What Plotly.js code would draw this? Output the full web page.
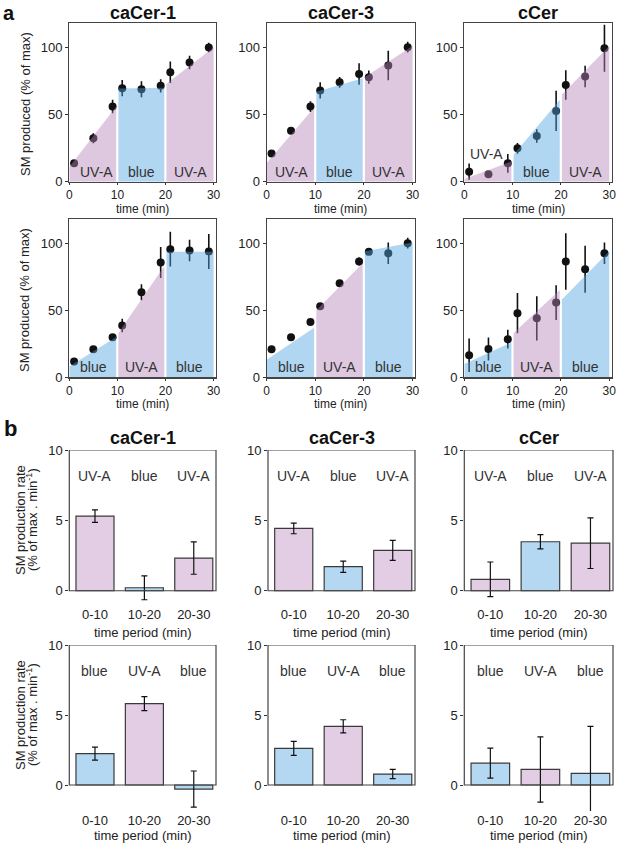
<!DOCTYPE html>
<html><head><meta charset="utf-8">
<script src="https://cdn.plot.ly/plotly-3.0.1.min.js"></script>
<style>html,body{margin:0;padding:0;background:#fff}#chart{width:617px;height:843px}</style>
</head><body><div id="chart"></div><script>
// ---------------- DATA ----------------
const compounds = ['caCer-1', 'caCer-3', 'cCer'];
const timePoints = [1, 5, 9, 11, 15, 19, 21, 25, 29];
const timeTicks = [0, 10, 20, 30];
const amountTicks = [0, 50, 100];

// Row 1 protocol: UV-A / blue / UV-A ; Row 2 protocol: blue / UV-A / blue
const row1Light = ['UV-A', 'blue', 'UV-A'];
const row2Light = ['blue', 'UV-A', 'blue'];

// Panel a, row 1 — SM produced (% of max)
const a1_caCer1 = [13.7, 32.3, 56, 69.7, 68.9, 71.4, 81.6, 88.8, 100];
const a1_caCer1_err = [2, 3.7, 5, 6, 6, 5, 8, 5, 3.5];
const a1_caCer3 = [21, 38, 56, 68, 74, 80.3, 77.9, 86.6, 100.2];
const a1_caCer3_err = [1.5, 1.5, 4, 6, 4, 8, 5, 11, 4];
const a1_cCer = [7.5, 5.5, 13.7, 24.9, 34, 52.7, 72, 78.4, 99.5];
const a1_cCer_err = [6, 1, 7, 4, 5, 15, 11, 8, 17.5];

// Panel a, row 2
const a2_caCer1 = [11.7, 20.9, 29.9, 38.6, 63.4, 85.6, 95.5, 94.5, 93.8];
const a2_caCer1_err = [2, 2, 2, 5, 6, 11.5, 13, 8, 13];
const a2_caCer3 = [20.9, 29.9, 41.3, 53, 70.1, 86.3, 93.5, 92.5, 100];
const a2_caCer3_err = [2, 1, 1, 1, 1, 3, 2, 8, 4];
const a2_cCer = [16.4, 21.1, 28.4, 47.8, 44, 55.7, 86.3, 80.6, 92.5];
const a2_cCer_err = [12.5, 8.5, 7, 15, 16.5, 13, 21, 17.5, 8];

// Linear fits per light period: [start time, end time, start value, end value]
const periodStart = [0, 10.2, 20.2];
const periodEnd = [9.75, 19.75, 30];
const a1_caCer1_fitStart = [11, 69.5, 73];
const a1_caCer1_fitEnd = [56, 70, 100];
const a1_caCer3_fitStart = [14, 67, 78];
const a1_caCer3_fitEnd = [55, 77, 101];
const a1_cCer_fitStart = [2, 20, 65];
const a1_cCer_fitEnd = [15, 61, 101];
const a2_caCer1_fitStart = [8, 33, 93.5];
const a2_caCer1_fitEnd = [30, 83, 93.5];
const a2_caCer3_fitStart = [13, 50, 94];
const a2_caCer3_fitEnd = [37, 85, 100.5];
const a2_cCer_fitStart = [10, 33, 58];
const a2_cCer_fitEnd = [26, 65, 94];

// Panel b — SM production rate (% of max . min^-1)
const periods = ['0-10', '10-20', '20-30'];
const rateTicks = [0, 5, 10];
const b1_caCer1 = [5.3, 0.21, 2.32];
const b1_caCer1_err = [0.45, 0.85, 1.15];
const b1_caCer3 = [4.43, 1.71, 2.87];
const b1_caCer3_err = [0.38, 0.4, 0.71];
const b1_cCer = [0.81, 3.48, 3.38];
const b1_cCer_err = [1.23, 0.5, 1.8];
const b2_caCer1 = [2.24, 5.81, -0.29];
const b2_caCer1_err = [0.46, 0.5, 1.29];
const b2_caCer3 = [2.61, 4.19, 0.78];
const b2_caCer3_err = [0.5, 0.47, 0.33];
const b2_cCer = [1.56, 1.11, 0.83];
const b2_cCer_err = [1.07, 2.33, 3.36];

// ---------------- STYLE ----------------
const W = 617, H = 843;
const FONT = 'Liberation Sans, Arial, Helvetica, sans-serif';
const TXT = '#222';
const fillColor = {'UV-A': 'rgba(182,133,186,0.45)', 'blue': 'rgba(79,164,224,0.45)'};
const barColor = {'UV-A': '#e3cde4', 'blue': '#b4d8f2'};
const px = v => v / W;
const py = v => 1 - v / H;

const colA = [[69.3, 216], [266.7, 415], [464.3, 611.7]];
const colB = [[69.3, 216], [268, 415], [464.3, 613]];
const rowsA = [[23.3, 181.7], [219, 377.3]];
const rowsB = [[450, 604.8], [645, 810.9]];
const rowsBRange = [[-1.0, 10], [-1.85, 10]];

const panelsA = [
  [[a1_caCer1, a1_caCer1_err, a1_caCer1_fitStart, a1_caCer1_fitEnd],
   [a1_caCer3, a1_caCer3_err, a1_caCer3_fitStart, a1_caCer3_fitEnd],
   [a1_cCer, a1_cCer_err, a1_cCer_fitStart, a1_cCer_fitEnd]],
  [[a2_caCer1, a2_caCer1_err, a2_caCer1_fitStart, a2_caCer1_fitEnd],
   [a2_caCer3, a2_caCer3_err, a2_caCer3_fitStart, a2_caCer3_fitEnd],
   [a2_cCer, a2_cCer_err, a2_cCer_fitStart, a2_cCer_fitEnd]]
];
const panelsB = [
  [[b1_caCer1, b1_caCer1_err], [b1_caCer3, b1_caCer3_err], [b1_cCer, b1_cCer_err]],
  [[b2_caCer1, b2_caCer1_err], [b2_caCer3, b2_caCer3_err], [b2_cCer, b2_cCer_err]]
];
const lights = [row1Light, row2Light];
// label positions inside panels (time, value)
const labelTimes = [[[5.6, 15, 25.3], [5, 15, 25], [4.6, 15, 25]], [[5.1, 15, 24.9], [5, 15, 25], [5, 15, 25]]];
const labelVals = [[[7, 7, 7], [7, 7, 7], [20.7, 7, 7]], [[7.5, 7.5, 7.5], [7.5, 7.5, 7.5], [7.5, 7.5, 7.5]]];

const data = [];
const layout = {
  width: W, height: H, margin: {l: 0, r: 0, t: 0, b: 0},
  paper_bgcolor: '#fff', plot_bgcolor: 'rgba(0,0,0,0)',
  showlegend: false, font: {family: FONT, size: 13, color: TXT},
  annotations: [], shapes: []
};

let n = 0;
// ---- panel a ----
for (let r = 0; r < 2; r++) {
  for (let c = 0; c < 3; c++) {
    n++;
    const xa = n === 1 ? 'x' : 'x' + n, ya = n === 1 ? 'y' : 'y' + n;
    const [vals, errs, fs, fe] = panelsA[r][c];
    data.push({type: 'scatter', mode: 'markers', x: timePoints, y: vals, xaxis: xa, yaxis: ya,
      marker: {color: '#111', size: 8},
      error_y: {type: 'data', array: errs, visible: true, color: '#111', thickness: 1.6, width: 0},
      cliponaxis: false, hoverinfo: 'skip'});
    for (let s = 0; s < 3; s++) {
      data.push({type: 'scatter', mode: 'none', fill: 'toself',
        fillcolor: fillColor[lights[r][s]],
        x: [periodStart[s], periodStart[s], periodEnd[s], periodEnd[s]],
        y: [0, fs[s], fe[s], 0], xaxis: xa, yaxis: ya, hoverinfo: 'skip'});
      layout.annotations.push({xref: xa, yref: ya, x: labelTimes[r][c][s], y: labelVals[r][c][s],
        text: lights[r][s], showarrow: false, font: {size: 14, color: '#333'}, yanchor: 'middle'});
    }
    const axKey = n === 1 ? '' : n;
    layout['xaxis' + axKey] = {domain: [px(colA[c][0]), px(colA[c][1])], anchor: ya, range: [0, 30.5],
      tickvals: timeTicks, ticks: 'outside', ticklen: 2, tickcolor: '#333', showline: true, mirror: true,
      linecolor: '#444', linewidth: 1.2, showgrid: false, zeroline: false, tickfont: {size: 12}, fixedrange: true};
    layout['yaxis' + axKey] = {domain: [py(rowsA[r][1]), py(rowsA[r][0])], anchor: xa, range: [0, 118],
      tickvals: amountTicks, ticks: 'outside', ticklen: 3, tickcolor: '#333', showline: true, mirror: true,
      linecolor: '#444', linewidth: 1.2, showgrid: false, zeroline: false, tickfont: {size: 13}, fixedrange: true};
  }
}
// ---- panel b ----
for (let r = 0; r < 2; r++) {
  for (let c = 0; c < 3; c++) {
    n++;
    const xa = 'x' + n, ya = 'y' + n;
    const [vals, errs] = panelsB[r][c];
    data.push({type: 'bar', x: periods, y: vals, xaxis: xa, yaxis: ya, width: 0.77,
      marker: {color: lights[r].map(l => barColor[l]), line: {color: '#3a3a3a', width: 1.2}},
      error_y: {type: 'data', array: errs, visible: true, color: '#111', thickness: 1.2, width: 3},
      hoverinfo: 'skip'});
    lights[r].forEach((l, i) => layout.annotations.push({xref: xa, yref: ya, x: periods[i], y: 8.15,
      text: l, showarrow: false, font: {size: 14, color: '#333'}, yanchor: 'middle'}));
    layout.shapes.push({type: 'rect', xref: xa + ' domain', yref: ya, x0: 0, x1: 1, y0: 0, y1: 10,
      line: {color: '#444', width: 1.2}, fillcolor: 'rgba(0,0,0,0)', layer: 'above'});
    layout['xaxis' + n] = {domain: [px(colB[c][0]), px(colB[c][1])], anchor: ya, type: 'category',
      range: [-0.52, 2.45], showline: false, ticks: '', showgrid: false, zeroline: false,
      tickfont: {size: 13}, fixedrange: true};
    layout['yaxis' + n] = {domain: [py(rowsB[r][1]), py(rowsB[r][0])], anchor: xa, range: rowsBRange[r],
      tickvals: rateTicks, ticks: 'outside', ticklen: 3, tickcolor: '#333', showline: false,
      showgrid: false, zeroline: false, tickfont: {size: 13}, fixedrange: true};
  }
}

// ---- text: titles, axis titles, panel letters ----
function ann(x, y, text, opts) {
  layout.annotations.push(Object.assign({xref: 'paper', yref: 'paper', x: px(x), y: py(y), text: text,
    showarrow: false, xanchor: 'center', yanchor: 'middle'}, opts || {}));
}
ann(9, 13, '<b>a</b>', {font: {size: 20, color: '#111'}});
ann(10, 428, '<b>b</b>', {font: {size: 22, color: '#111'}});
compounds.forEach((name, c) => {
  const ca = (colA[c][0] + colA[c][1]) / 2, cb = (colB[c][0] + colB[c][1]) / 2;
  ann(ca, 13, '<b>' + name + '</b>', {font: {size: 18, color: '#111'}});
  ann(cb, 438, '<b>' + name + '</b>', {font: {size: 18, color: '#111'}});
  ann(ca, 208.5, 'time (min)', {font: {size: 12}});
  ann(ca, 404, 'time (min)', {font: {size: 12}});
  ann(cb, 632, 'time period (min)', {font: {size: 13}});
  ann(cb, 835, 'time period (min)', {font: {size: 13}});
});
ann(25, 104, 'SM produced (% of max)', {textangle: -90, font: {size: 13}});
ann(25, 300, 'SM produced (% of max)', {textangle: -90, font: {size: 13}});
[520, 715].forEach(yc => {
  ann(20, yc, 'SM production rate', {textangle: -90, font: {size: 13}});
  ann(32, yc, '(% of max . min<sup>-1</sup>)', {textangle: -90, font: {size: 13}});
});

Plotly.newPlot('chart', data, layout, {staticPlot: true, displayModeBar: false});
</script></body></html>
